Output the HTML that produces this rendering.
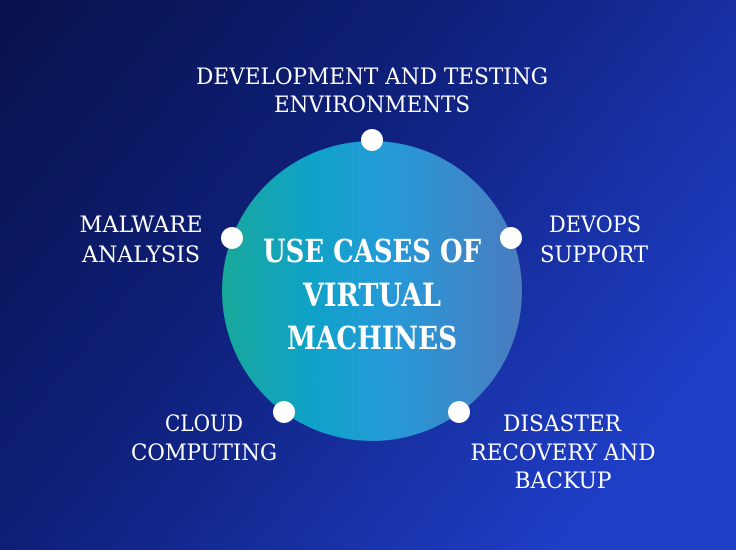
<!DOCTYPE html>
<html><head><meta charset="utf-8"><style>
html,body{margin:0;padding:0;width:736px;height:550px;overflow:hidden}
</style></head><body>
<svg width="736" height="550" viewBox="0 0 736 550" xmlns="http://www.w3.org/2000/svg">
<defs>
<linearGradient id="bg" x1="0" y1="0" x2="1" y2="0.6">
<stop offset="0" stop-color="#08124a"/>
<stop offset="0.45" stop-color="#0e1f78"/>
<stop offset="1" stop-color="#1f3ec6"/>
</linearGradient>
<linearGradient id="cg" x1="0" y1="0" x2="1" y2="0">
<stop offset="0" stop-color="#18a89a"/>
<stop offset="0.3" stop-color="#0fa2c8"/>
<stop offset="0.55" stop-color="#259ad8"/>
<stop offset="1" stop-color="#4a7cc0"/>
</linearGradient>
</defs>
<rect width="736" height="550" fill="url(#bg)"/>
<circle cx="372" cy="291" r="150" fill="url(#cg)"/>
<g fill="#fff">
<circle cx="372" cy="140" r="11"/>
<circle cx="232" cy="238" r="11"/>
<circle cx="511" cy="238" r="11"/>
<circle cx="284" cy="412" r="11"/>
<circle cx="459" cy="412" r="11"/>
</g>
<g fill="#fff" font-family="DejaVu Serif, Liberation Serif, serif" font-weight="bold" font-size="32" text-anchor="middle">
<text x="372" y="262" textLength="218" lengthAdjust="spacingAndGlyphs">USE CASES OF</text>
<text x="372" y="306" textLength="138" lengthAdjust="spacingAndGlyphs">VIRTUAL</text>
<text x="372" y="349" textLength="170" lengthAdjust="spacingAndGlyphs">MACHINES</text>
</g>
<g fill="#fff" font-family="DejaVu Serif, Liberation Serif, serif" font-size="22" text-anchor="middle">
<text x="372" y="84" textLength="352" lengthAdjust="spacingAndGlyphs">DEVELOPMENT AND TESTING</text>
<text x="372" y="112" textLength="196" lengthAdjust="spacingAndGlyphs">ENVIRONMENTS</text>
<text x="141" y="232" textLength="123" lengthAdjust="spacingAndGlyphs">MALWARE</text>
<text x="141" y="262" textLength="118" lengthAdjust="spacingAndGlyphs">ANALYSIS</text>
<text x="595" y="232" textLength="92" lengthAdjust="spacingAndGlyphs">DEVOPS</text>
<text x="594" y="262" textLength="108" lengthAdjust="spacingAndGlyphs">SUPPORT</text>
<text x="204" y="431" textLength="78" lengthAdjust="spacingAndGlyphs">CLOUD</text>
<text x="204" y="460" textLength="146" lengthAdjust="spacingAndGlyphs">COMPUTING</text>
<text x="562" y="431" textLength="118" lengthAdjust="spacingAndGlyphs">DISASTER</text>
<text x="563" y="460" textLength="185" lengthAdjust="spacingAndGlyphs">RECOVERY AND</text>
<text x="563" y="488" textLength="97" lengthAdjust="spacingAndGlyphs">BACKUP</text>
</g>
</svg>
</body></html>
